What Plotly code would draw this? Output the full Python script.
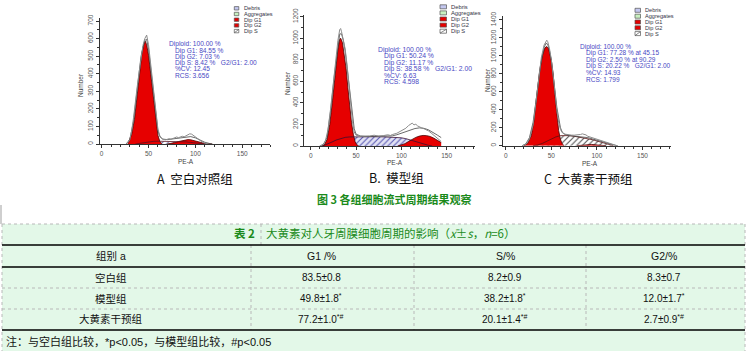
import plotly.graph_objects as go

W, H = 747, 351

# ================= DATA =================
# Panel A : 空白对照组
a_data_x = [26, 28, 30, 32, 34, 36, 38, 40, 42, 44, 46, 48, 50, 52, 54, 56, 58, 60, 62, 64, 66, 68, 70, 72, 74, 76, 78, 80, 82, 84, 86, 88, 90, 92, 94, 96, 98, 100, 102, 104, 106, 108, 110, 112, 114]
a_data_y = [0, 8, 25, 75, 150, 255, 330, 410, 495, 560, 600, 620, 565, 465, 355, 245, 150, 85, 48, 32, 26, 24, 27, 30, 27, 31, 36, 40, 36, 39, 44, 41, 47, 53, 58, 56, 48, 42, 34, 22, 15, 9, 5, 2, 0]
a_fit_x = [26, 30, 34, 38, 42, 46, 48, 50, 52, 54, 56, 58, 60, 62, 65, 70, 75, 80, 85, 90, 95, 100, 105, 110, 115, 118]
a_fit_y = [0, 25, 130, 300, 500, 590, 595, 540, 445, 340, 235, 140, 75, 42, 28, 25, 28, 32, 37, 41, 42, 35, 22, 10, 3, 0]
a_g1_x = [28, 32, 35, 37, 39, 41, 43, 45, 46.5, 48, 50, 52, 54, 56, 58, 60, 62, 64]
a_g1_y = [3, 55, 140, 230, 340, 435, 520, 570, 585, 565, 505, 415, 315, 215, 120, 50, 15, 2]
a_g2_x = [70, 74, 78, 82, 86, 90, 92, 95, 98, 102, 106, 110, 114, 118]
a_g2_y = [0, 3, 8, 14, 20, 24, 25, 24, 20, 13, 7, 3, 1, 0]
a_s_x = [36, 40, 45, 50, 55, 60, 65, 70, 75, 80, 85, 90, 95, 100, 105, 110]
a_s_y = [0, 4, 9, 13, 15, 16, 16, 16, 15, 15, 14, 12, 9, 5, 2, 0]

# Panel B : 模型组
b_data_x = [10, 13, 16, 19, 22, 25, 28, 30, 32, 33, 34, 36, 38, 40, 42, 44, 46, 48, 50, 55, 60, 65, 70, 72, 75, 80, 85, 88, 90, 95, 100, 105, 108, 110, 112, 114, 116, 118, 120, 122, 125, 128, 130, 133, 136, 139, 142, 144]
b_data_y = [0, 10, 40, 150, 350, 600, 850, 980, 1080, 1090, 1060, 990, 900, 760, 580, 400, 230, 130, 100, 92, 90, 93, 100, 94, 92, 96, 104, 98, 106, 118, 140, 165, 190, 200, 212, 196, 202, 186, 176, 170, 160, 150, 140, 120, 100, 80, 60, 42]
b_fit_x = [10, 14, 18, 22, 26, 30, 32, 34, 36, 38, 40, 42, 44, 46, 48, 50, 55, 60, 70, 80, 90, 95, 100, 105, 110, 115, 120, 125, 130, 135, 140, 144]
b_fit_y = [0, 15, 80, 330, 650, 950, 1040, 1040, 980, 880, 740, 580, 420, 270, 160, 110, 92, 88, 88, 88, 94, 104, 118, 135, 150, 162, 168, 164, 150, 128, 100, 78]
b_g1_x = [12, 15, 18, 21, 24, 27, 30, 32, 33, 35, 37, 39, 41, 43, 45, 47, 49, 51, 53]
b_g1_y = [0, 10, 60, 200, 420, 680, 900, 990, 1000, 960, 860, 720, 540, 370, 220, 110, 40, 10, 0]
b_g2_x = [96, 100, 104, 108, 112, 116, 120, 124, 128, 132, 136, 140, 144]
b_g2_y = [0, 8, 22, 42, 62, 80, 92, 98, 96, 88, 72, 52, 32]
b_s_x = [13, 18, 23, 28, 33, 38, 43, 50, 60, 70, 80, 90, 95, 100, 105, 110, 115, 120, 125, 130, 134]
b_s_y = [0, 15, 35, 55, 70, 80, 84, 86, 86, 86, 85, 83, 80, 76, 68, 55, 40, 26, 14, 6, 0]

# Panel C : 大黄素干预组
c_data_x = [18, 22, 26, 30, 33, 36, 39, 42, 44, 45, 46, 48, 50, 52, 54, 56, 58, 60, 62, 64, 66, 68, 70, 72, 75, 78, 80, 82, 84, 86, 88, 90, 93, 96, 100, 104, 108, 112, 116, 120, 122]
c_data_y = [0, 15, 70, 230, 470, 760, 980, 1120, 1170, 1175, 1160, 1080, 960, 800, 600, 400, 260, 180, 145, 130, 125, 122, 120, 118, 117, 118, 120, 125, 132, 130, 120, 105, 95, 85, 70, 55, 40, 25, 12, 4, 0]
c_fit_x = [18, 22, 26, 30, 34, 38, 42, 44, 46, 48, 50, 52, 54, 56, 58, 60, 62, 65, 70, 75, 80, 85, 90, 95, 100, 105, 110, 115, 120, 123]
c_fit_y = [0, 20, 90, 260, 560, 880, 1090, 1140, 1130, 1060, 950, 800, 610, 430, 290, 200, 150, 125, 112, 108, 105, 100, 90, 76, 60, 44, 28, 14, 4, 0]
c_g1_x = [20, 24, 28, 31, 34, 37, 40, 43, 45, 47, 50, 52, 54, 56, 58, 60, 62, 64]
c_g1_y = [0, 25, 110, 280, 560, 820, 1000, 1090, 1105, 1080, 950, 800, 560, 330, 170, 70, 20, 0]
c_g2_x = [78, 82, 86, 90, 94, 98, 102, 106, 110]
c_g2_y = [0, 5, 11, 15, 14, 10, 6, 2, 0]
c_s_x = [30, 35, 40, 45, 50, 55, 60, 65, 70, 75, 80, 85, 90, 95, 100, 105, 110, 115, 118]
c_s_y = [0, 8, 25, 50, 75, 98, 112, 115, 112, 105, 97, 90, 80, 67, 52, 37, 22, 8, 0]

stats_a = ["Diploid: 100.00 %", "Dip G1: 84.55 %", "Dip G2: 7.03 %",
           "Dip S: 8.42 %\u00a0\u00a0\u00a0G2/G1: 2.00", "%CV: 12.45", "RCS: 3.656"]
stats_b = ["Diploid: 100.00 %", "Dip G1: 50.24 %", "Dip G2: 11.17 %",
           "Dip S: 38.58 %\u00a0\u00a0\u00a0G2/G1: 2.00", "%CV: 6.63", "RCS: 4.598"]
stats_c = ["Diploid: 100.00 %", "Dip G1: 77.28 % at 45.15", "Dip G2: 2.50 % at 90.29",
           "Dip S: 20.22 %\u00a0\u00a0\u00a0G2/G1: 2.00", "%CV: 14.93", "RCS: 1.799"]
legend_items = ["Debris", "Aggregates", "Dip G1", "Dip G2", "Dip S"]
captions = ["A\u00a0\u00a0空白对照组", "B.\u00a0\u00a0模型组", "C\u00a0\u00a0大黄素干预组"]
figure_title = "图 3 各组细胞流式周期结果观察"

table_no = "表 2"
table_title = "大黄素对人牙周膜细胞周期的影响（<i>x\u0304</i>±<i>s</i>，<i>n</i>=6）"
table_header = ["组别 a", "G1 /%", "S/%", "G2/%"]
table_groups = ["空白组", "模型组", "大黄素干预组"]
g1_vals = ["83.5±0.8", "49.8±1.8<sup>*</sup>", "77.2±1.0<sup>*#</sup>"]
s_vals = ["8.2±0.9", "38.2±1.8<sup>*</sup>", "20.1±1.4<sup>*#</sup>"]
g2_vals = ["8.3±0.7", "12.0±1.7<sup>*</sup>", "2.7±0.9<sup>*#</sup>"]
table_note = "注：与空白组比较，*p&lt;0.05，与模型组比较，#p&lt;0.05"

# ================= HELPERS =================
def PX(x):
    return x / W


def PY(y):
    return 1 - y / H


CJK = "Noto Sans CJK SC"
SANS = "Liberation Sans"
RED = "#e60000"

fig = go.Figure()
annotations = []
shapes = []


def text(x, y, s, size, color="#000", xanchor="center", family=SANS + ", " + CJK, angle=0, yanchor="middle"):
    annotations.append(dict(x=PX(x), y=PY(y), xref="paper", yref="paper", text=s,
                            showarrow=False, xanchor=xanchor, yanchor=yanchor, textangle=angle,
                            font=dict(size=size, color=color, family=family)))


panels = [
    dict(data=(a_data_x, a_data_y), fit=(a_fit_x, a_fit_y), g1=(a_g1_x, a_g1_y), g2=(a_g2_x, a_g2_y),
         s=(a_s_x, a_s_y), xdom=(99.8, 270.4), ydom=(18.4, 144), xr=[-2, 180], yr=[0, 715],
         ydt=100, ymn=50, sbg="#ffffff", sfg="#6a6a9a", slc="#5a1020",
         stats=stats_a, sx=166.7, sys=[44.3, 50.5, 56.7, 63, 69, 75.3], sfs=6.6,
         lg=dict(bx=234.3, bw=4.5, bh=3.4, tx=241.5, ys=[8.3, 14, 19.7, 25.4, 31.1], fs=5.6),
         num=(80, 85), pea=(186, 161), cap=(195, 178)),
    dict(data=(b_data_x, b_data_y), fit=(b_fit_x, b_fit_y), g1=(b_g1_x, b_g1_y), g2=(b_g2_x, b_g2_y),
         s=(b_s_x, b_s_y), xdom=(304.4, 474.7), ydom=(14.5, 146), xr=[-7, 181], yr=[0, 1220],
         ydt=200, ymn=100, sbg="#e2e2f4", sfg="#5a5ab4", slc="#3a1030",
         stats=stats_b, sx=376, sys=[50, 56.3, 62.5, 68.8, 75, 81.2], sfs=6.8,
         lg=dict(bx=440, bw=6.5, bh=4, tx=449, ys=[6.8, 12.9, 19, 25.1, 31.2], fs=5.8),
         num=(288, 83), pea=(395, 162), cap=(397, 177)),
    dict(data=(c_data_x, c_data_y), fit=(c_fit_x, c_fit_y), g1=(c_g1_x, c_g1_y), g2=(c_g2_x, c_g2_y),
         s=(c_s_x, c_s_y), xdom=(503, 670.8), ydom=(15.5, 145.7), xr=[-3, 181], yr=[0, 1450],
         ydt=200, ymn=100, sbg="#ffffff", sfg="#555555", slc="#5a1010",
         stats=stats_c, sx=578.3, sys=[46.7, 53.3, 59.8, 66.3, 72.8, 79.5], sfs=6.5,
         lg=dict(bx=635, bw=5.5, bh=4, tx=643, ys=[10.3, 16.2, 22, 27.8, 33.6], fs=5.6),
         num=(487, 80), pea=(590, 163), cap=(588, 178)),
]

layout_axes = {}
for i, p in enumerate(panels):
    suf = "" if i == 0 else str(i + 1)
    xa, ya = "x" + suf, "y" + suf
    # S phase (hatched)
    fig.add_trace(go.Scatter(x=p["s"][0], y=p["s"][1], mode="lines", line=dict(width=0, color=p["sfg"]),
                             fill="tozeroy", fillcolor=p["sbg"],
                             fillpattern=dict(shape="/", fgcolor=p["sfg"], bgcolor=p["sbg"], size=4, solidity=0.28),
                             xaxis=xa, yaxis=ya, hoverinfo="skip"))
    # G1 and G2 (red)
    for comp in ("g1", "g2"):
        fig.add_trace(go.Scatter(x=p[comp][0], y=p[comp][1], mode="lines",
                                 line=dict(width=0.8, color="#4a0000"),
                                 fill="tozeroy", fillcolor=RED, xaxis=xa, yaxis=ya, hoverinfo="skip"))
    # S outline
    fig.add_trace(go.Scatter(x=p["s"][0], y=p["s"][1], mode="lines", line=dict(width=0.8, color=p["slc"]),
                             xaxis=xa, yaxis=ya, hoverinfo="skip"))
    # fit and data outlines
    fig.add_trace(go.Scatter(x=p["fit"][0], y=p["fit"][1], mode="lines", line=dict(width=0.8, color="#444444"),
                             xaxis=xa, yaxis=ya, hoverinfo="skip"))
    fig.add_trace(go.Scatter(x=p["data"][0], y=p["data"][1], mode="lines", line=dict(width=1, color="#8c8c8c"),
                             xaxis=xa, yaxis=ya, hoverinfo="skip"))

    x0, x1 = p["xdom"]
    y0, y1 = p["ydom"]
    common = dict(showline=True, linecolor="#333", linewidth=1, ticks="outside", ticklen=3, tickwidth=1,
                  tickcolor="#333", tickfont=dict(size=6.5, color="#555", family=SANS),
                  showgrid=False, zeroline=False, fixedrange=True)
    layout_axes["xaxis" + suf] = dict(domain=[PX(x0), PX(x1)], range=p["xr"], anchor=ya,
                                      tick0=0, dtick=50,
                                      minor=dict(ticks="outside", ticklen=2, dtick=10, tick0=0, tickcolor="#333"),
                                      **common)
    layout_axes["yaxis" + suf] = dict(domain=[PY(y1), PY(y0)], range=p["yr"], anchor=xa,
                                      tick0=0, dtick=p["ydt"], tickangle=-90,
                                      minor=dict(ticks="outside", ticklen=2, dtick=p["ymn"], tick0=0, tickcolor="#333"),
                                      **common)

    # stats text
    for k, line in enumerate(p["stats"]):
        text(p["sx"] + (0 if k == 0 else 6), p["sys"][k], line, p["sfs"], color="#4848c4", xanchor="left")

    # legend
    lg = p["lg"]
    fills = ["#c4c8f0", "#c8f0c0", RED, RED, "#ffffff"]
    for k, name in enumerate(legend_items):
        yc = lg["ys"][k]
        shapes.append(dict(type="rect", xref="paper", yref="paper",
                           x0=PX(lg["bx"]), x1=PX(lg["bx"] + lg["bw"]),
                           y0=PY(yc + lg["bh"] / 2), y1=PY(yc - lg["bh"] / 2),
                           fillcolor=fills[k], line=dict(color="#555", width=0.7)))
        if k == 4:
            shapes.append(dict(type="line", xref="paper", yref="paper",
                               x0=PX(lg["bx"]), x1=PX(lg["bx"] + lg["bw"]),
                               y0=PY(yc + lg["bh"] / 2), y1=PY(yc - lg["bh"] / 2),
                               line=dict(color="#555", width=0.7)))
        text(lg["tx"], yc, name, lg["fs"], color="#334", xanchor="left")

    text(p["num"][0], p["num"][1], "Number", 6.5, color="#444", angle=-90)
    text(p["pea"][0], p["pea"][1], "PE-A", 6.5, color="#444")
    text(p["cap"][0], p["cap"][1], captions[i], 12.5, color="#111", family=CJK)

# ================= TITLE & TABLE =================
GREEN = "#1a8a1a"
text(394, 199, "<b>" + figure_title + "</b>", 11, color=GREEN, family=CJK)

# background
shapes.append(dict(type="rect", xref="paper", yref="paper", x0=PX(2), x1=PX(745), y0=PY(351), y1=PY(224),
                   fillcolor="#e3f8e8", line=dict(width=0), layer="below"))
shapes.append(dict(type="line", xref="paper", yref="paper", x0=PX(1), x1=PX(1), y0=PY(224), y1=PY(205),
                   line=dict(color="#cfcfcf", width=2)))


def hline(y, dashed, x0=2, x1=745):
    shapes.append(dict(type="line", xref="paper", yref="paper", x0=PX(x0), x1=PX(x1), y0=PY(y), y1=PY(y),
                       line=dict(color="#b8b8b8" if dashed else "#000", width=1 if dashed else 1.6,
                                 dash="dot" if dashed else "solid")))


def vline(x, ya, yb):
    shapes.append(dict(type="line", xref="paper", yref="paper", x0=PX(x), x1=PX(x), y0=PY(ya), y1=PY(yb),
                       line=dict(color="#b8b8b8", width=1, dash="dot")))


hline(224, True)
hline(288, True)
hline(309, True)
for x in (2, 745):
    vline(x, 224, 351)
vline(261, 224, 245)
for x in (251, 414, 586):
    vline(x, 245, 330)
hline(245, False)
hline(267, False)
hline(330, False)

text(257, 233, "<b>" + table_no + "</b>", 11.5, color=GREEN, xanchor="right", family=CJK)
text(264, 233, table_title, 11.5, color=GREEN, xanchor="left", family=CJK)

col_x = [111, 321, 505, 664]
for k, h in enumerate(table_header):
    text(col_x[k], 256, h, 10.5, color="#111", family=SANS + ", " + CJK)

row_y = [277, 298, 318.5]
for r in range(3):
    text(col_x[0], row_y[r], table_groups[r], 10.5, color="#111", family=CJK)
    text(col_x[1], row_y[r], g1_vals[r], 10, color="#111")
    text(col_x[2], row_y[r], s_vals[r], 10, color="#111")
    text(col_x[3], row_y[r], g2_vals[r], 10, color="#111")

text(4, 341, table_note, 11, color="#111", xanchor="left", family=SANS + ", " + CJK)

fig.update_layout(width=W, height=H, margin=dict(l=0, r=0, t=0, b=0), autosize=False,
                  template="none", paper_bgcolor="white", plot_bgcolor="rgba(0,0,0,0)",
                  showlegend=False, annotations=annotations, shapes=shapes, **layout_axes)

fig.write_html("out.html")
